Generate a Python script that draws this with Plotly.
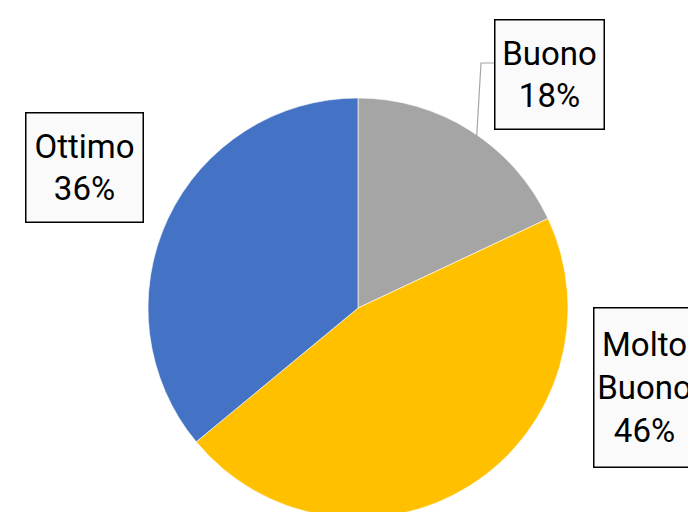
import plotly.graph_objects as go

labels = ["Buono", "Molto Buono", "Ottimo"]
values = [18, 46, 36]
colors = ["#A5A5A5", "#FFC000", "#4472C4"]
label_text = ["Buono<br>18%", "Molto<br>Buono<br>46%", "Ottimo<br>36%"]

W, H = 696, 512

fig = go.Figure()
fig.add_trace(go.Pie(
    labels=labels,
    values=values,
    sort=False,
    direction="clockwise",
    rotation=0,
    marker=dict(colors=colors, line=dict(color="rgba(255,255,255,0.6)", width=1)),
    textinfo="none",
    hoverinfo="label+percent",
    showlegend=False,
    domain=dict(x=[140 / W, 560 / W], y=[1 - 510 / H, 1 - 90 / H]),
))

font = dict(family="Roboto, Liberation Sans Narrow, sans-serif",
            size=33, color="#000000")

# box centres (paper fractions) and sizes in px
boxes = [
    (541 / W, 1 - 66 / H, 108, 108),     # Buono
    (636 / W, 1 - 379 / H, 100, 158),    # Molto Buono
    (76 / W, 1 - 159 / H, 116, 108),     # Ottimo
]
for txt, (bx, by, bw, bh) in zip(label_text, boxes):
    fig.add_annotation(
        x=bx, y=by, xref="paper", yref="paper",
        text=txt, showarrow=False, font=font,
        align="center", xanchor="center", yanchor="middle",
        width=bw, height=bh,
        bgcolor="#FAFAFA", bordercolor="#000000", borderwidth=1.5, borderpad=0,
    )

# leader line for Buono
fig.add_shape(
    type="path", xref="paper", yref="paper",
    path=f"M {486 / W} {1 - 55 / H} L {473 / W} {1 - 55 / H} L {468 / W} {1 - 140 / H}",
    line=dict(color="#A6A6A6", width=1.2),
)

fig.update_layout(
    width=W, height=H,
    margin=dict(l=0, r=0, t=0, b=0),
    paper_bgcolor="white", plot_bgcolor="white",
)

fig.write_html("out.html")
